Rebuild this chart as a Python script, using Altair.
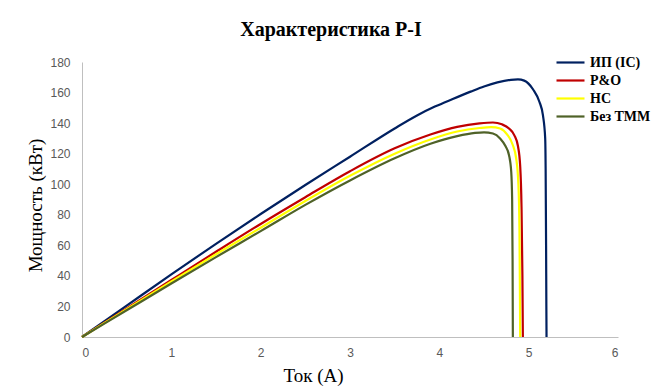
import altair as alt
import pandas as pd

series_names = ["ИП (IC)", "P&O", "НС", "Без ТММ"]
series_colors = ["#002060", "#C00000", "#FFFF00", "#4F6228"]

ic_I = [0, 0.5, 1.0, 1.5, 2.0, 2.5, 3.0, 3.5, 3.75, 3.95, 4.15, 4.35, 4.5, 4.65, 4.8, 4.88, 4.95, 5.05, 5.12, 5.16, 5.185, 5.19, 5.195, 5.198, 5.2]
ic_P = [0, 20.5, 41, 61, 80.5, 99.5, 118, 136.5, 145, 150.8, 155.8, 160.6, 164, 166.7, 168.35, 168.6, 167.8, 162, 154, 145, 130, 110, 60, 20, 0]

po_I = [0, 0.5, 1.0, 1.5, 2.0, 2.5, 3.0, 3.5, 3.9, 4.2, 4.45, 4.6, 4.7, 4.78, 4.84, 4.88, 4.905, 4.92, 4.93, 4.935]
po_P = [0, 18.7, 37.3, 55.8, 74, 91.5, 108.5, 123.5, 132.5, 137.5, 139.8, 140.4, 139.2, 136.5, 132, 125, 112, 85, 40, 0]

hc_I = [0, 0.5, 1.0, 1.5, 2.0, 2.5, 3.0, 3.5, 3.9, 4.2, 4.45, 4.58, 4.68, 4.76, 4.82, 4.86, 4.885, 4.897, 4.902, 4.905]
hc_P = [0, 18.2, 36.3, 54.2, 71.5, 89, 105.5, 120, 129.3, 134.5, 136.8, 137.4, 136.5, 132.5, 126, 117, 100, 70, 30, 0]

no_I = [0, 0.5, 1.0, 1.5, 2.0, 2.5, 3.0, 3.5, 3.9, 4.2, 4.4, 4.5, 4.6, 4.68, 4.74, 4.78, 4.805, 4.815, 4.82, 4.823]
no_P = [0, 17.5, 35, 52.3, 69.3, 86.5, 102.5, 117, 126.5, 131.5, 133.6, 134, 133.2, 130, 125, 119, 108, 90, 50, 0]

x_ticks = [0, 1, 2, 3, 4, 5, 6]
y_ticks = [0, 20, 40, 60, 80, 100, 120, 140, 160, 180]

rows = []
for name, xs, ys in zip(series_names, [ic_I, po_I, hc_I, no_I], [ic_P, po_P, hc_P, no_P]):
    for k, (a, b) in enumerate(zip(xs, ys)):
        rows.append({"series": name, "I": a, "P": b, "idx": k})
df = pd.DataFrame(rows)

chart = alt.Chart(df).mark_line(interpolate="monotone", strokeWidth=2.2).encode(
    x=alt.X("I:Q", scale=alt.Scale(domain=[0, 6], nice=False),
            axis=alt.Axis(values=x_ticks, title="Ток (A)", titleX=231, titleY=44,
                          titleBaseline="alphabetic", titleAlign="center",
                          labelPadding=10)),
    y=alt.Y("P:Q", scale=alt.Scale(domain=[0, 180], nice=False),
            axis=alt.Axis(values=y_ticks, title="Мощность (кВт)", titleX=-47, titleY=143,
                          titleAngle=-90, titleBaseline="middle", titleAlign="center",
                          labelPadding=12)),
    color=alt.Color("series:N", scale=alt.Scale(domain=series_names, range=series_colors),
                    legend=alt.Legend(orient="none", legendX=480, legendY=-8, title=None,
                                      symbolType="M-2,0L2,0", symbolSize=196, symbolStrokeWidth=2.2,
                                      labelFont="Liberation Serif", labelFontSize=14,
                                      labelFontWeight="bold", labelColor="black", labelOffset=11,
                                      rowPadding=2, padding=0)),
    order=alt.Order("idx:Q"),
).properties(
    width=536, height=275,
    background="white",
    autosize=alt.AutoSizeParams(type="none"),
    padding={"left": 82, "top": 62, "right": 41, "bottom": 52},
    title=alt.TitleParams("Характеристика P-I", font="Liberation Serif", fontSize=20,
                          fontWeight="bold", color="black", anchor="middle", dx=-19,
                          baseline="alphabetic", offset=-2),
).configure_view(stroke=None).configure_axis(
    grid=False, ticks=False, domainColor="#BFBFBF", domainWidth=1,
    labelFont="Liberation Sans", labelFontSize=12, labelColor="#595959",
    titleFont="Liberation Serif", titleFontSize=19, titleFontWeight="normal", titleColor="black",
)

chart.save("out.html", embed_options={"renderer": "svg", "actions": False})
